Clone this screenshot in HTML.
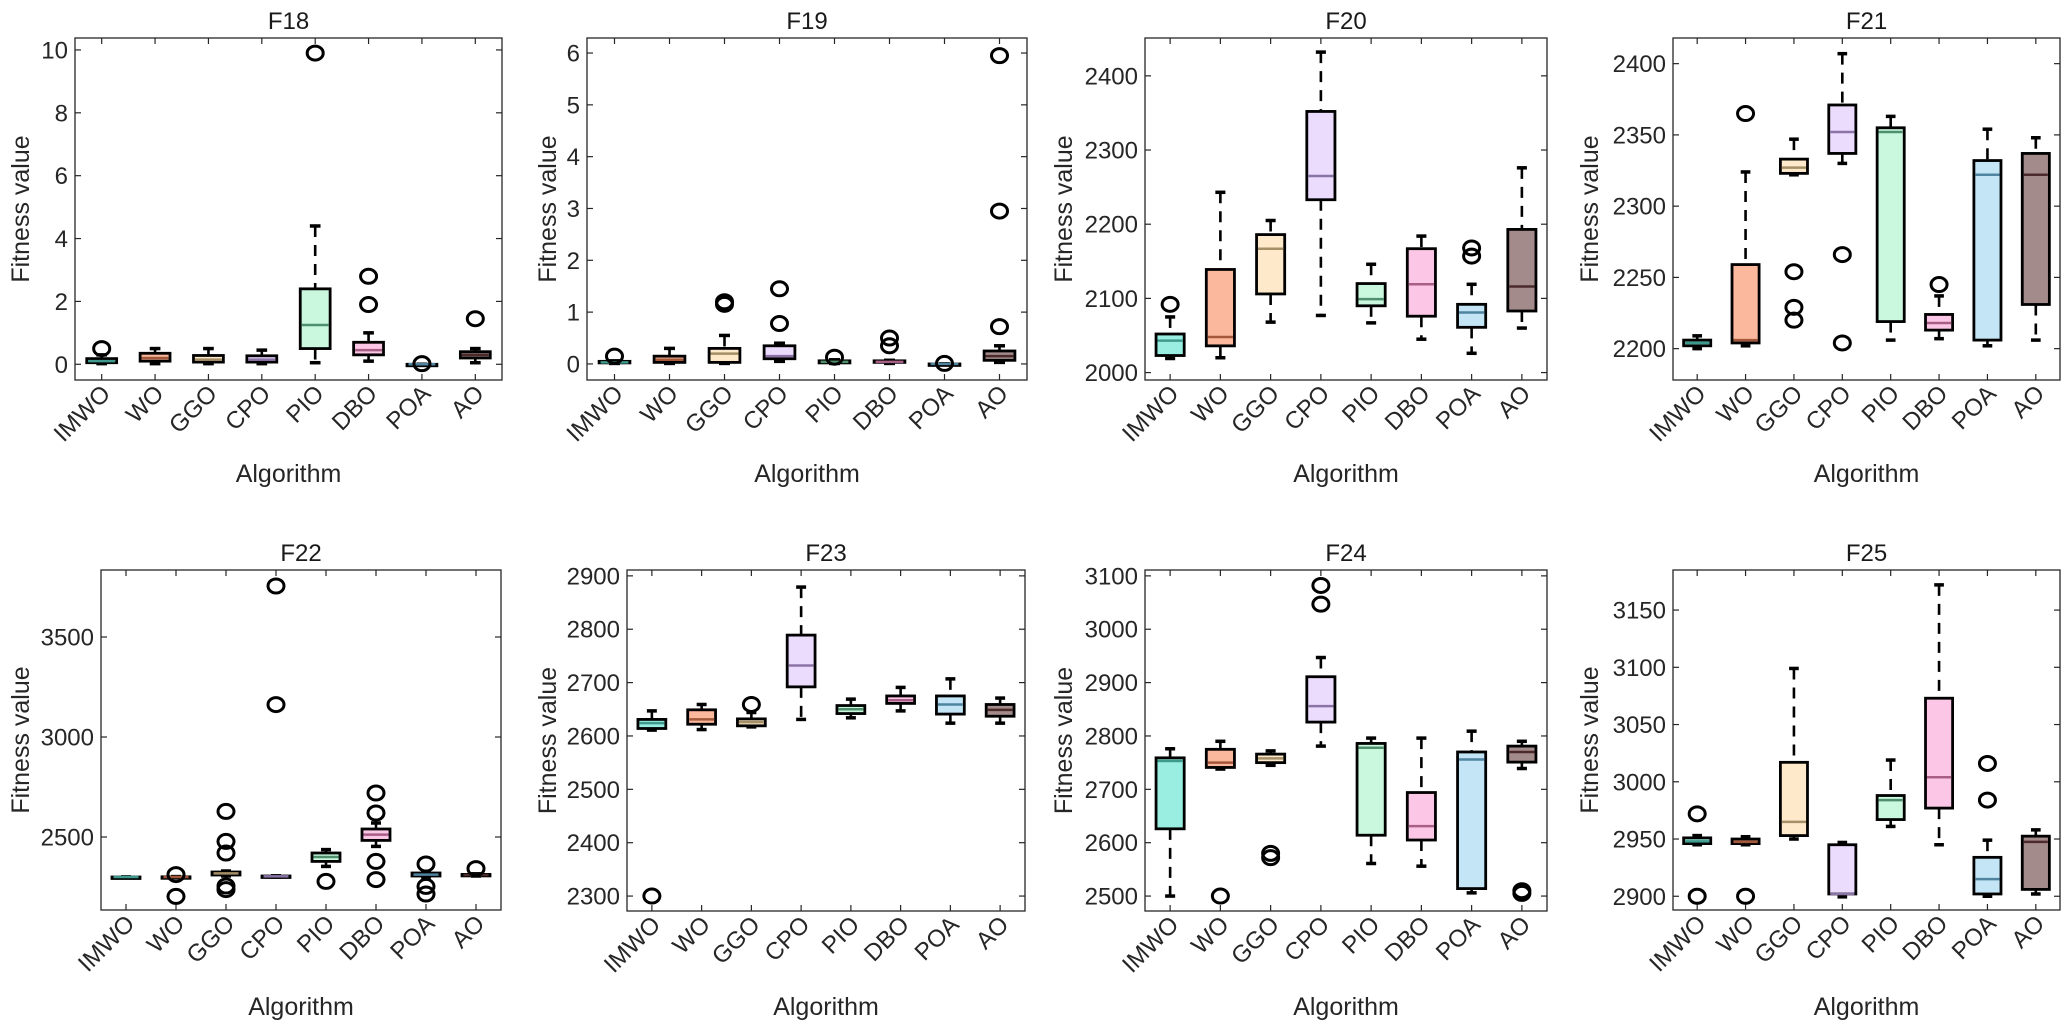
<!DOCTYPE html>
<html><head><meta charset="utf-8">
<style>
html,body{margin:0;padding:0;background:#fff;}
svg{display:block;font-family:"Liberation Sans",Arial,sans-serif;}
</style></head>
<body>
<svg id="fig" width="2072" height="1026" viewBox="0 0 2072 1026"></svg>
<script>
const categories = ["IMWO","WO","GGO","CPO","PIO","DBO","POA","AO"];
const fillColors = ["#9aeee1","#fbb89d","#feeacb","#ebdcfe","#c9f8df","#fcc7e7","#c3e5f5","#a48b8b"];
const medianColors = ["#3f9a8e","#a3573b","#a58f66","#8c73a6","#4f8f6b","#a85f86","#4f84a0","#4a2a2a"];

// stats rows: [lowWhisker, q1, median, q3, highWhisker]
const f18Stats = [[0.02,0.05,0.1,0.18,0.3],[0.02,0.1,0.2,0.35,0.5],[0.02,0.07,0.15,0.28,0.5],[0.02,0.07,0.15,0.27,0.45],[0.05,0.5,1.25,2.4,4.4],[0.1,0.3,0.45,0.7,1.0],[0,0,0,0,0],[0.05,0.2,0.3,0.4,0.5]];
const f18Out = [[0.5],[],[],[],[9.9],[1.9,2.8],[0.02],[1.45]];
const f18Ticks = [0,2,4,6,8,10];

const f19Stats = [[0.01,0.02,0.03,0.05,0.06],[0.01,0.03,0.08,0.15,0.3],[0.01,0.03,0.2,0.3,0.55],[0.05,0.1,0.15,0.35,0.4],[0.01,0.02,0.04,0.06,0.08],[0.01,0.03,0.04,0.06,0.07],[0,0,0,0,0],[0.03,0.07,0.15,0.25,0.35]];
const f19Out = [[0.15],[],[1.15,1.2],[0.78,1.45],[0.13],[0.35,0.5],[0.01],[0.72,2.95,5.95]];
const f19Ticks = [0,1,2,3,4,5,6];

const f20Stats = [[2019,2023,2043,2052,2075],[2020,2036,2048,2139,2243],[2068,2106,2167,2186,2205],[2077,2233,2265,2352,2432],[2067,2090,2099,2120,2146],[2045,2076,2119,2167,2184],[2026,2061,2081,2092,2119],[2060,2083,2116,2193,2276]];
const f20Out = [[2092],[],[],[],[],[],[2157,2168],[]];
const f20Ticks = [2000,2100,2200,2300,2400];

const f21Stats = [[2200,2202,2204,2206,2209],[2202,2204,2206,2259,2324],[2322,2323,2327,2333,2347],[2330,2337,2352,2371,2407],[2206,2219,2352,2355,2363],[2207,2213,2218,2224,2237],[2202,2206,2322,2332,2354],[2206,2231,2322,2337,2348]];
const f21Out = [[],[2365],[2254,2229,2220],[2266,2204],[],[2245],[],[]];
const f21Ticks = [2200,2250,2300,2350,2400];

const f22Stats = [[2300,2300,2300,2300,2300],[2298,2299,2300,2301,2302],[2305,2310,2318,2325,2330],[2300,2302,2303,2305,2306],[2353,2378,2400,2420,2437],[2453,2483,2512,2540,2570],[2300,2305,2312,2320,2325],[2305,2308,2310,2313,2316]];
const f22Out = [[],[2312,2203],[2237,2255,2420,2478,2628],[3162,3755],[2278],[2720,2620,2378,2287],[2365,2253,2215],[2342]];
const f22Ticks = [2500,3000,3500];

const f23Stats = [[2611,2614,2624,2631,2647],[2612,2622,2631,2649,2659],[2617,2619,2626,2632,2644],[2631,2692,2732,2789,2879],[2634,2642,2650,2657,2669],[2647,2661,2667,2675,2691],[2624,2641,2659,2675,2707],[2624,2637,2649,2659,2671]];
const f23Out = [[2300],[],[2659],[],[],[],[],[]];
const f23Ticks = [2300,2400,2500,2600,2700,2800,2900];

const f24Stats = [[2500,2626,2753,2759,2776],[2738,2741,2750,2775,2790],[2745,2750,2758,2766,2772],[2781,2826,2856,2911,2947],[2561,2614,2778,2786,2796],[2556,2605,2631,2694,2796],[2506,2514,2756,2770,2809],[2739,2751,2770,2781,2790]];
const f24Out = [[],[2500],[2572,2580],[3047,3082],[],[],[],[2505,2510]];
const f24Ticks = [2500,2600,2700,2800,2900,3000,3100];

const f25Stats = [[2945,2946,2948,2951,2953],[2945,2946,2947.5,2950,2952],[2950,2953,2965,3017,3099],[2899.5,2902,2902,2945,2947],[2961,2967,2984,2988,3019],[2945,2977,3004,3073,3172],[2900,2902,2915,2934,2949],[2902,2906,2947.5,2952.5,2958]];
const f25Out = [[2972,2900],[2900],[],[],[],[],[2984,3016],[]];
const f25Ticks = [2900,2950,3000,3050,3100,3150];

const panels = [
 {t:"F18",s:f18Stats,o:f18Out,k:f18Ticks,L:75,R:502,T:38,B:380,y0:-0.5,y1:10.38,yl:20},
 {t:"F19",s:f19Stats,o:f19Out,k:f19Ticks,L:587,R:1027,T:38,B:380,y0:-0.31,y1:6.29,yl:547},
 {t:"F20",s:f20Stats,o:f20Out,k:f20Ticks,L:1145,R:1547,T:38,B:380,y0:1990,y1:2451,yl:1063},
 {t:"F21",s:f21Stats,o:f21Out,k:f21Ticks,L:1673,R:2060,T:38,B:380,y0:2178,y1:2418,yl:1589},
 {t:"F22",s:f22Stats,o:f22Out,k:f22Ticks,L:101,R:501,T:570,B:910,y0:2135,y1:3835,yl:20},
 {t:"F23",s:f23Stats,o:f23Out,k:f23Ticks,L:627,R:1025,T:570,B:911,y0:2272,y1:2911,yl:547},
 {t:"F24",s:f24Stats,o:f24Out,k:f24Ticks,L:1145,R:1547,T:570,B:911,y0:2472,y1:3111,yl:1063},
 {t:"F25",s:f25Stats,o:f25Out,k:f25Ticks,L:1673,R:2060,T:570,B:910,y0:2888,y1:3185,yl:1589}
];
const NS="http://www.w3.org/2000/svg";
const svg=document.getElementById('fig');
function mk(tag,attrs,parent){const e=document.createElementNS(NS,tag);for(const a in attrs)e.setAttribute(a,attrs[a]);(parent||svg).appendChild(e);return e;}
panels.forEach(p=>{
  const g=mk('g',{});
  
  
  const n=categories.length, step=(p.R-p.L)/n;
  const xs=i=>p.L+step*(i+0.5);
  const ys=v=>p.B-(v-p.y0)/(p.y1-p.y0)*(p.B-p.T);
  const bw=step*0.56, cw=step*0.2;
  const ti=mk('text',{x:(p.L+p.R)/2,y:p.T-9,'text-anchor':'middle','font-size':24,fill:'#1a1a1a'},g);
  ti.textContent=p.t;
  
  
  p.k.forEach(v=>{
    const y=ys(v);
    const tl=mk('line',{x1:p.L,x2:p.L+6,y1:y,y2:y,stroke:'#262626','stroke-width':1.2},g);
    
    
    mk('line',{x1:p.R,x2:p.R-6,y1:y,y2:y,stroke:'#262626','stroke-width':1.2},g);
    const lb=mk('text',{x:p.L-7,y:y+8.5,'text-anchor':'end','font-size':24,fill:'#262626'},g);
    lb.textContent=String(v);
    
    
  });
  categories.forEach((c,i)=>{
    const x=xs(i);
    mk('line',{x1:x,x2:x,y1:p.B,y2:p.B-6,stroke:'#262626','stroke-width':1.2},g);
    mk('line',{x1:x,x2:x,y1:p.T,y2:p.T+6,stroke:'#262626','stroke-width':1.2},g);
    const lb=mk('text',{x:0,y:0,'text-anchor':'end','font-size':24,fill:'#262626',transform:`translate(${x+10},${p.B+15}) rotate(-45)`},g);
    lb.textContent=c;
    
    
  });
  p.s.forEach((st,i)=>{
    const x=xs(i);
    const bg=mk('g',{},g);
    
    
    const [lo,q1,md,q3,hi]=st;
    mk('line',{x1:x,x2:x,y1:ys(hi),y2:ys(q3),stroke:'#000','stroke-width':2.6,'stroke-dasharray':'11,8'},bg);
    mk('line',{x1:x,x2:x,y1:ys(q1),y2:ys(lo),stroke:'#000','stroke-width':2.6,'stroke-dasharray':'11,8'},bg);
    mk('line',{x1:x-cw/2,x2:x+cw/2,y1:ys(hi),y2:ys(hi),stroke:'#000','stroke-width':3.5},bg);
    mk('line',{x1:x-cw/2,x2:x+cw/2,y1:ys(lo),y2:ys(lo),stroke:'#000','stroke-width':3.5},bg);
    const h=Math.max(ys(q1)-ys(q3),1.5);
    mk('rect',{x:x-bw/2,y:ys(q3),width:bw,height:h,fill:fillColors[i],stroke:'#000','stroke-width':2.8},bg);
    mk('line',{x1:x-bw/2+1.5,x2:x+bw/2-1.5,y1:ys(md),y2:ys(md),stroke:medianColors[i],'stroke-width':2.5},bg);
    p.o[i].forEach(v=>{
      const c=mk('ellipse',{cx:x,cy:ys(v),rx:8,ry:7,fill:'none',stroke:'#000','stroke-width':3},bg);
      
      
    });
  });
  const fr=mk('rect',{x:p.L,y:p.T,width:p.R-p.L,height:p.B-p.T,fill:'none',stroke:'#262626','stroke-width':1.3},g);
  
  
  const xl=mk('text',{x:(p.L+p.R)/2,y:p.T===38?482:1015,'text-anchor':'middle','font-size':25,fill:'#262626'},g);
  xl.textContent='Algorithm';
  
  
  const yc=(p.T+p.B)/2;
  const yl=mk('text',{x:0,y:0,'text-anchor':'middle','font-size':25,fill:'#262626',transform:`translate(${p.yl+9},${yc}) rotate(-90)`},g);
  yl.textContent='Fitness value';
  
  
});
</script>
</body></html>
